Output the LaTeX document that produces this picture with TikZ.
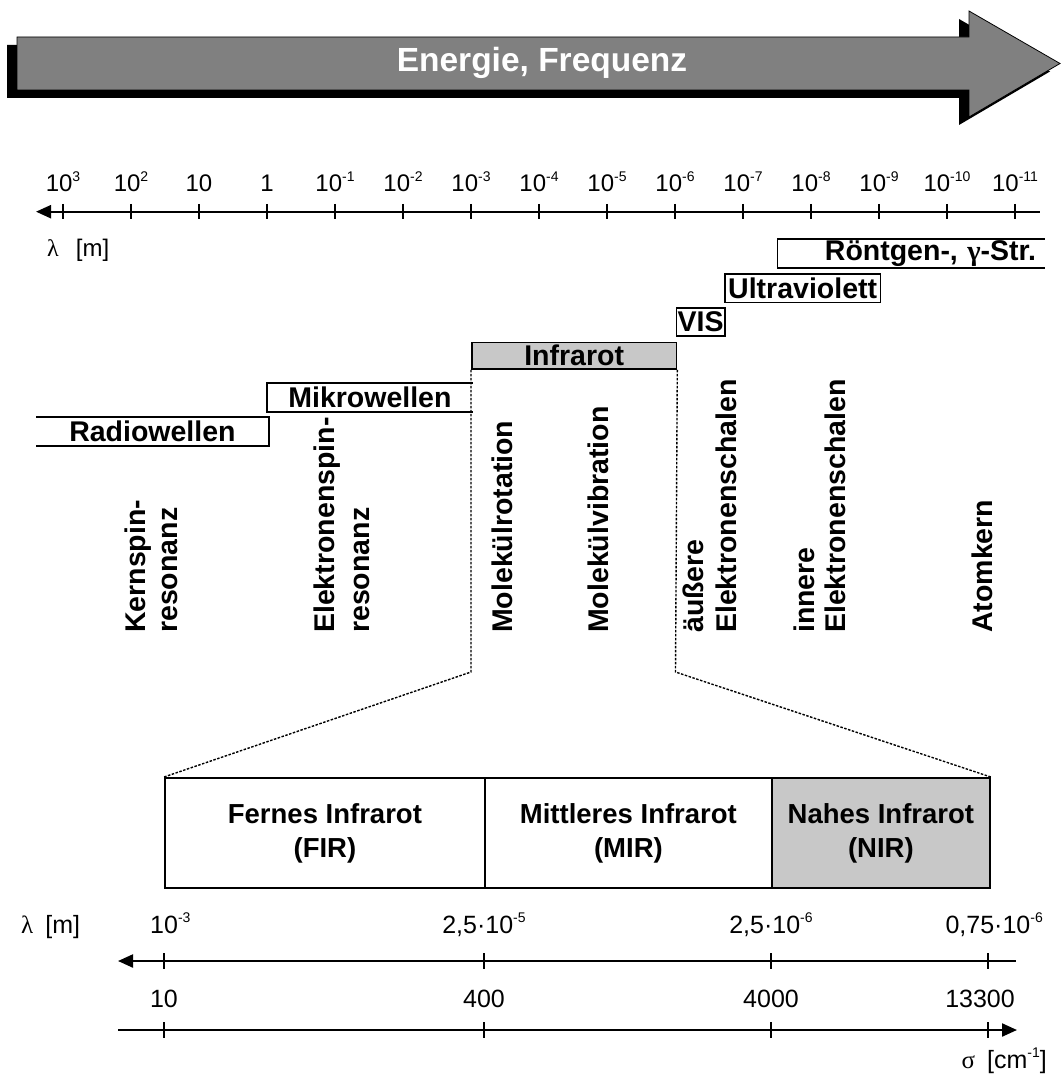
\documentclass[tikz,border=0pt]{standalone}
\usepackage{fontspec}
\setmainfont{Liberation Sans}
\newfontfamily\grk{Liberation Serif}
\usetikzlibrary{arrows.meta}
% raised small exponent
\newcommand\supx[1]{\raisebox{0.42em}{\fontsize{14}{14}\selectfont #1}}
\definecolor{arrowgray}{HTML}{808080}
\definecolor{bandgray}{HTML}{C8C8C8}
\begin{document}
\begin{tikzpicture}[x=1pt,y=-1pt,
  reg/.style={font=\fontsize{24}{28}\selectfont, inner sep=0pt},
  regb/.style={font=\fontsize{25}{28}\selectfont, inner sep=0pt},
  lbl/.style={font=\fontsize{28.5}{33}\selectfont\bfseries, inner sep=0pt},
  band/.style={lbl, line width=1.8pt, anchor=north west},
  vlbl/.style={lbl, rotate=90, anchor=base west},
  axisline/.style={line width=2.2pt},
  tickmark/.style={line width=1.8pt},
  zoomline/.style={line width=1.4pt, dash pattern=on 2.5pt off 1.5pt},
  cell/.style={draw, line width=1.8pt, minimum height=110pt, inner sep=0pt,
    align=center, anchor=north west, font=\fontsize{27.5}{34}\selectfont\bfseries},
  tipL/.style={{Triangle[length=15pt,width=13pt]}-},
  tipR/.style={-{Triangle[length=15pt,width=13pt]}}
]
\useasboundingbox (0,0) rectangle (1062,1075);

% ---- energy / frequency arrow with drop shadow ----
\fill[black] (7,45) -- (959,45) -- (959,19) -- (1050,71.5) -- (959,125) -- (959,98) -- (7,98) -- cycle;
\filldraw[fill=arrowgray, draw=black, line width=0.8pt]
  (17,37) -- (969,37) -- (969,11) -- (1060,63.5) -- (969,117) -- (969,90) -- (17,90) -- cycle;
\node[font=\fontsize{33.5}{36}\selectfont\bfseries, text=white, inner sep=0pt, anchor=base]
  (energy) at (542,72) {Energie, Frequenz};

% ---- wavelength scale ----
\draw[axisline, tipL] (36,211.7) -- (1040,211.7);
\foreach \lab [count=\i from 0] in {10\supx{3},10\supx{2},10,1,10\supx{-1},10\supx{-2},10\supx{-3},
    10\supx{-4},10\supx{-5},10\supx{-6},10\supx{-7},10\supx{-8},10\supx{-9},10\supx{-10},10\supx{-11}}{
  \draw[tickmark] (63+68*\i,204) -- (63+68*\i,219.5);
  \node[reg, anchor=base] (w\i) at (63+68*\i,192) {\lab};
}
\node[reg, anchor=base west] (lamtop) at (47,256) {{\grk λ}\hspace{17pt}[m]};

% ---- spectral regions ----
\node[band, minimum width=231pt, minimum height=27pt] (rw) at (36,417) {Radiowellen};
\draw[line width=1.8pt] (rw.north west) -- (rw.north east) -- (rw.south east) -- (rw.south west);
\node[band, minimum width=204pt, minimum height=27pt] (mw) at (267,383) {Mikrowellen};
\draw[line width=1.8pt] (mw.north east) -- (mw.north west) -- (mw.south west) -- (mw.south east);
\node[band, draw, fill=bandgray, minimum width=204.5pt, minimum height=26.5pt] (ir) at (471,341.5) {Infrarot};
\node[band, draw, minimum width=48.5pt, minimum height=28pt] (vis) at (675.5,307) {VIS};
\node[band, draw, minimum width=155.5pt, minimum height=28.5pt] (uv) at (724,273) {Ultraviolett};
\node[band, minimum width=265.5pt, minimum height=27.5pt, text width=250pt, align=right] (xr) at (777.5,239)
  {Röntgen-, {\grk γ}-Str.};
\draw[line width=1.8pt] (xr.north east) -- (xr.north west) -- (xr.south west) -- (xr.south east);

% ---- processes ----
\node[vlbl] (ks1) at (145,633) {Kernspin-};
\node[vlbl] (ks2) at (177.6,633) {resonanz};
\node[vlbl] (es1) at (334.5,633) {Elektronenspin-};
\node[vlbl] (es2) at (369,633) {resonanz};
\node[vlbl] (mr) at (512,633) {Molekülrotation};
\node[vlbl] (mv) at (608,633) {Molekülvibration};
\node[vlbl] (ae1) at (703,633) {äußere};
\node[vlbl] (ae2) at (736,633) {Elektronenschalen};
\node[vlbl] (ie1) at (814,633) {innere};
\node[vlbl] (ie2) at (845,633) {Elektronenschalen};
\node[vlbl] (ak) at (992,633) {Atomkern};

% ---- infrared detail ----
\node[cell, minimum width=320pt] (fir) at (164,777) {Fernes Infrarot\\(FIR)};
\node[cell, minimum width=287pt] (mir) at (484,777) {Mittleres Infrarot\\(MIR)};
\node[cell, fill=bandgray, minimum width=218pt] (nir) at (771,777) {Nahes Infrarot\\(NIR)};

\coordinate (kl) at (471,672);
\coordinate (kr) at (675.5,672);
\draw[zoomline] (ir.south west) -- (kl) -- (fir.north west);
\draw[zoomline] (ir.south east) -- (kr) -- (nir.north east);

% ---- infrared wavelength and wavenumber scales ----
\draw[axisline, tipL] (118,961) -- (1016,961);
\draw[axisline, tipR] (118,1030) -- (1017,1030);
\foreach \x [count=\i] in {164,484,771,988}{
  \draw[tickmark, line width=1.2pt] (\x,953) -- (\x,969);
  \draw[tickmark, line width=1.2pt] (\x,1022) -- (\x,1038);
}
\node[regb, anchor=base west] (lb1) at (150,933) {10\supx{-3}};
\node[regb, anchor=base] (lb2) at (484,933) {2,5·10\supx{-5}};
\node[regb, anchor=base] (lb3) at (771,933) {2,5·10\supx{-6}};
\node[regb, anchor=base east] (lb4) at (1043,933) {0,75·10\supx{-6}};
\node[regb, anchor=base west] (lambot) at (21,933) {{\grk λ}\hspace{12pt}[m]};

\node[regb, anchor=base] (sb1) at (164,1007) {10};
\node[regb, anchor=base] (sb2) at (484,1007) {400};
\node[regb, anchor=base] (sb3) at (771,1007) {4000};
\node[regb, anchor=base] (sb4) at (980,1007) {13300};
\node[regb, anchor=base east] (sigma) at (1047,1068) {{\grk σ}\hspace{12pt}[cm\supx{-1}]};
\end{tikzpicture}
\end{document}
